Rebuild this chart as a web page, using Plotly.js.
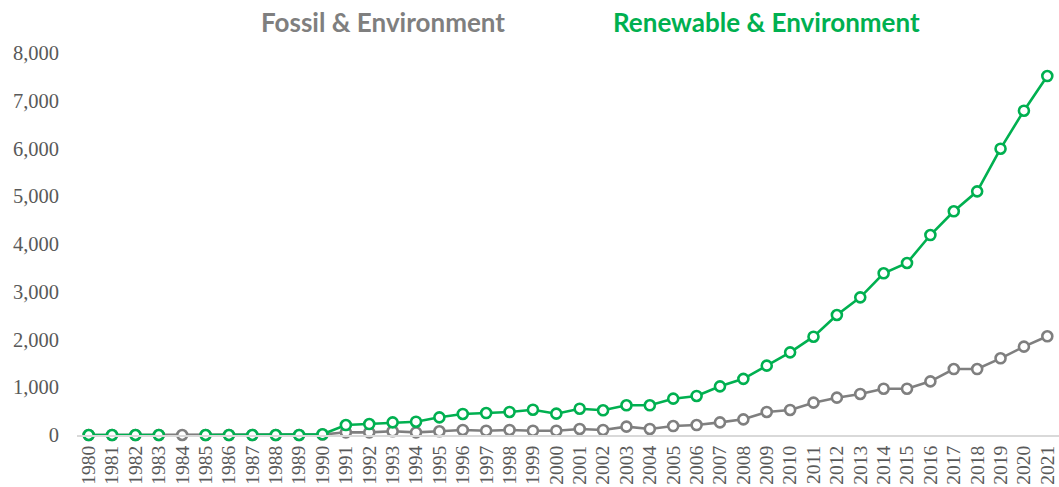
<!DOCTYPE html>
<html>
<head>
<meta charset="utf-8">
<script src="https://cdn.plot.ly/plotly-3.0.1.min.js"></script>
<style>
  html, body { margin: 0; padding: 0; background: #ffffff; }
  #chart { width: 1059px; height: 487px; }
</style>
</head>
<body>
<div id="chart"></div>
<script>
const years = ["1980","1981","1982","1983","1984","1985","1986","1987","1988","1989","1990",
  "1991","1992","1993","1994","1995","1996","1997","1998","1999","2000",
  "2001","2002","2003","2004","2005","2006","2007","2008","2009","2010",
  "2011","2012","2013","2014","2015","2016","2017","2018","2019","2020","2021"];

const fossilEnv = [0,0,0,0,0,0,0,0,0,0,10,
  56,56,77,56,77,105,90,105,90,90,
  126,105,175,126,188,209,265,328,482,524,
  677,782,859,970,970,1124,1382,1382,1606,1850,2067];

const renewableEnv = [0,0,0,0,null,0,0,0,0,0,15,
  209,230,265,279,370,440,460,482,530,447,
  551,517,622,622,761,817,1019,1176,1452,1731,
  2059,2513,2883,3386,3602,4188,4685,5103,5996,6792,7518];

const seriesNames = ["Fossil & Environment", "Renewable & Environment"];
const GRAY = "#7F7F7F";
const GREEN = "#00B050";

function makeTrace(name, values, color) {
  return {
    type: "scatter",
    mode: "lines+markers",
    name: name,
    x: years,
    y: values,
    connectgaps: false,
    cliponaxis: false,
    line: { color: color, width: 2.6 },
    marker: { symbol: "circle", size: 10, color: "#ffffff", line: { color: color, width: 2.6 } },
    showlegend: false
  };
}

const data = [
  makeTrace(seriesNames[0], fossilEnv, GRAY),
  makeTrace(seriesNames[1], renewableEnv, GREEN)
];

const layout = {
  width: 1059,
  height: 487,
  margin: { l: 77, r: 0, t: 53, b: 52 },
  paper_bgcolor: "#ffffff",
  plot_bgcolor: "#ffffff",
  showlegend: false,
  xaxis: {
    type: "category",
    range: [-0.5, 41.5],
    tickmode: "array",
    tickvals: years,
    ticktext: years,
    showgrid: false,
    zeroline: false,
    showline: true,
    linecolor: "#D9D9D9",
    linewidth: 2,
    ticks: "",
    tickangle: -90,
    ticklabelstandoff: 1,
    tickfont: { family: "Liberation Serif, Times New Roman, serif", size: 19.5, color: "#595959" },
    automargin: false
  },
  yaxis: {
    range: [0, 8000],
    dtick: 1000,
    tickformat: ",d",
    showgrid: false,
    zeroline: false,
    showline: false,
    ticks: "",
    ticklabelstandoff: 17,
    tickfont: { family: "Liberation Serif, Times New Roman, serif", size: 20.5, color: "#595959" },
    automargin: false
  },
  annotations: [
    {
      text: "<b>" + seriesNames[0] + "</b>",
      xref: "paper", yref: "paper",
      x: (383 - 77) / 982, y: 1 + (53 - 22) / 382,
      xanchor: "center", yanchor: "middle",
      showarrow: false,
      font: { family: "Lato, Open Sans, sans-serif", size: 26, color: GRAY }
    },
    {
      text: "<b>" + seriesNames[1] + "</b>",
      xref: "paper", yref: "paper",
      x: (766 - 77) / 982, y: 1 + (53 - 22) / 382,
      xanchor: "center", yanchor: "middle",
      showarrow: false,
      font: { family: "Lato, Open Sans, sans-serif", size: 26, color: GREEN }
    }
  ]
};

Plotly.newPlot("chart", data, layout, { displayModeBar: false, staticPlot: true });
</script>
</body>
</html>
